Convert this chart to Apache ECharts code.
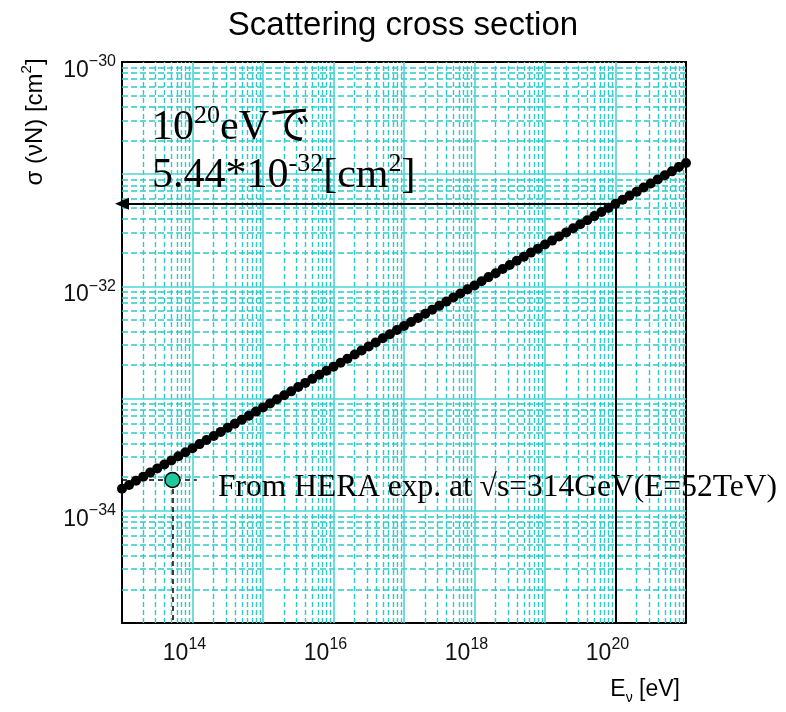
<!DOCTYPE html>
<html>
<head>
<meta charset="utf-8">
<title>Scattering cross section</title>
<script src="https://cdn.jsdelivr.net/npm/echarts@6/dist/echarts.min.js"></script>
<style>
  html, body { margin: 0; padding: 0; background: #fff; }
  #main { width: 786px; height: 712px; }
</style>
</head>
<body>
<div id="main"></div>
<script>
// ニュートリノ核子散乱断面積 (読み取り値)
const energy = [
  1.00e13, 1.26e13, 1.58e13, 2.00e13, 2.51e13, 3.16e13, 3.98e13, 5.01e13, 6.31e13, 7.94e13,
  1.00e14, 1.26e14, 1.58e14, 2.00e14, 2.51e14, 3.16e14, 3.98e14, 5.01e14, 6.31e14, 7.94e14,
  1.00e15, 1.26e15, 1.58e15, 2.00e15, 2.51e15, 3.16e15, 3.98e15, 5.01e15, 6.31e15, 7.94e15,
  1.00e16, 1.26e16, 1.58e16, 2.00e16, 2.51e16, 3.16e16, 3.98e16, 5.01e16, 6.31e16, 7.94e16,
  1.00e17, 1.26e17, 1.58e17, 2.00e17, 2.51e17, 3.16e17, 3.98e17, 5.01e17, 6.31e17, 7.94e17,
  1.00e18, 1.26e18, 1.58e18, 2.00e18, 2.51e18, 3.16e18, 3.98e18, 5.01e18, 6.31e18, 7.94e18,
  1.00e19, 1.26e19, 1.58e19, 2.00e19, 2.51e19, 3.16e19, 3.98e19, 5.01e19, 6.31e19, 7.94e19,
  1.00e20, 1.26e20, 1.58e20, 2.00e20, 2.51e20, 3.16e20, 3.98e20, 5.01e20, 6.31e20, 7.94e20,
  1.00e21
];
const sigma = [
  1.57e-34, 1.70e-34, 1.85e-34, 2.01e-34, 2.19e-34, 2.38e-34, 2.59e-34, 2.81e-34, 3.06e-34, 3.32e-34,
  3.61e-34, 3.93e-34, 4.27e-34, 4.64e-34, 5.05e-34, 5.49e-34, 5.96e-34, 6.48e-34, 7.05e-34, 7.66e-34,
  8.33e-34, 9.06e-34, 9.85e-34, 1.07e-33, 1.16e-33, 1.27e-33, 1.38e-33, 1.50e-33, 1.63e-33, 1.77e-33,
  1.92e-33, 2.09e-33, 2.27e-33, 2.47e-33, 2.69e-33, 2.92e-33, 3.17e-33, 3.45e-33, 3.75e-33, 4.08e-33,
  4.43e-33, 4.82e-33, 5.24e-33, 5.70e-33, 6.19e-33, 6.73e-33, 7.32e-33, 7.96e-33, 8.65e-33, 9.41e-33,
  1.02e-32, 1.11e-32, 1.21e-32, 1.31e-32, 1.43e-32, 1.55e-32, 1.69e-32, 1.84e-32, 2.00e-32, 2.17e-32,
  2.36e-32, 2.56e-32, 2.79e-32, 3.03e-32, 3.30e-32, 3.58e-32, 3.89e-32, 4.23e-32, 4.60e-32, 5.00e-32,
  5.44e-32, 5.92e-32, 6.43e-32, 6.99e-32, 7.60e-32, 8.26e-32, 8.99e-32, 9.77e-32, 1.06e-31, 1.16e-31,
  1.26e-31
];
// HERA の点
const hera = [5.2e13, 1.88e-34];
const heraLineEnd = 1.15e14;
// 10^20 eV の矢印
const markE = 1e20;
const markSigma = 5.44e-32;

const xMin = 1e13, xMax = 1e21;
const yMin = 1e-35, yMax = 1e-30;
const xDecades = [1e13, 1e14, 1e15, 1e16, 1e17, 1e18, 1e19, 1e20];
const yDecades = [1e-35, 1e-34, 1e-33, 1e-32, 1e-31];
const minorMant = [2, 3, 4, 5, 6, 7, 8, 9];
const xLabelExp = [14, 16, 18, 20];
const yLabelExp = [-34, -32, -30];

const gridColor = '#4fd4d4';
const minorColor = '#2ccaca';

// 1e-35 程度の値は log 軸の丸めで 0 になるので、y は log10 を value 軸に載せる
const lg = Math.log10;

// 目盛り線 (主/副)
const majorLines = [];
const minorX = [];
const minorY = [];
xDecades.forEach(function (d, i) {
  if (i > 0) majorLines.push({ xAxis: d });
  minorMant.forEach(function (m) { minorX.push({ xAxis: m * d }); });
});
yDecades.forEach(function (d, i) {
  if (i > 0) majorLines.push({ yAxis: lg(d) });
  minorMant.forEach(function (m) { minorY.push({ yAxis: lg(m * d) }); });
});

function supLabel(e) {
  return '{b|10}{s|' + String(e).replace('-', '\u2212') + '}';
}
const tickRich = {
  b: { fontSize: 23, fontFamily: 'Liberation Sans', color: '#111', lineHeight: 28, verticalAlign: 'bottom' },
  s: { fontSize: 16, fontFamily: 'Liberation Sans', color: '#111', lineHeight: 16, verticalAlign: 'top' }
};

const serifRich = {
  b: { fontSize: 42, fontFamily: '"Liberation Serif", "Noto Sans CJK JP"', color: '#000', lineHeight: 46, verticalAlign: 'bottom' },
  s: { fontSize: 26, fontFamily: 'Liberation Serif', color: '#000', lineHeight: 29, verticalAlign: 'top' }
};

function gridSeries(name, list, style) {
  return {
    name: name, type: 'line', data: [], z: 1, silent: true,
    markLine: { silent: true, symbol: 'none', label: { show: false }, lineStyle: style, data: list }
  };
}

const chart = echarts.init(document.getElementById('main'));
chart.setOption({
  animation: false,
  backgroundColor: '#fff',
  grid: { left: 122, right: 100, top: 62, bottom: 89, containLabel: false },
  xAxis: [{
    type: 'log', logBase: 10, min: xMin, max: xMax, splitNumber: 8, z: 3,
    axisLine: { show: true, lineStyle: { color: '#000', width: 2 } },
    axisTick: { show: false },
    splitLine: { show: false },
    axisLabel: {
      margin: 14, rich: tickRich, padding: [0, 16, 0, 0],
      formatter: function (v) {
        const e = Math.round(lg(v));
        return xLabelExp.indexOf(e) < 0 ? '' : supLabel(e);
      }
    }
  }, {
    type: 'value', position: 'top', min: 0, max: 1, z: 3,
    axisLine: { show: true, onZero: false, lineStyle: { color: '#000', width: 2 } },
    axisTick: { show: false }, axisLabel: { show: false }, splitLine: { show: false }
  }],
  yAxis: [{
    type: 'value', min: lg(yMin), max: lg(yMax), interval: 1, z: 3,
    axisLine: { show: true, onZero: false, lineStyle: { color: '#000', width: 2 } },
    axisTick: { show: false },
    splitLine: { show: false },
    axisLabel: {
      margin: 6, rich: tickRich, padding: [12, 0, 0, 0],
      formatter: function (v) {
        const e = Math.round(v);
        return yLabelExp.indexOf(e) < 0 ? '' : supLabel(e);
      }
    }
  }, {
    type: 'value', position: 'right', min: 0, max: 1, z: 3,
    axisLine: { show: true, onZero: false, lineStyle: { color: '#000', width: 2 } },
    axisTick: { show: false }, axisLabel: { show: false }, splitLine: { show: false }
  }],
  graphic: [
    { type: 'text', x: 403, y: 9, style: { text: 'Scattering cross section', fontSize: 33, fontFamily: 'Liberation Sans', fill: '#000', align: 'center', verticalAlign: 'top' } },
    { type: 'text', x: 33, y: 122, rotation: Math.PI / 2,
      style: { text: '{t|\u03c3 (\u03bdN) [cm}{s|2}{t|]}', align: 'center', verticalAlign: 'middle',
        rich: {
          t: { fontSize: 24, fontFamily: 'Liberation Sans', color: '#111', lineHeight: 28, verticalAlign: 'bottom' },
          s: { fontSize: 15, fontFamily: 'Liberation Sans', color: '#111', lineHeight: 15, verticalAlign: 'top' }
        } } },
    { type: 'text', x: 680, y: 692,
      style: { text: '{t|E}{u|\u03bd}{t| [eV]}', align: 'right', verticalAlign: 'middle',
        rich: {
          t: { fontSize: 23, fontFamily: 'Liberation Sans', color: '#111', lineHeight: 27, verticalAlign: 'top' },
          u: { fontSize: 14, fontFamily: 'Liberation Sans', color: '#111', lineHeight: 14, verticalAlign: 'bottom' }
        } } },
    { type: 'text', x: 152, y: 103, z: 10,
      style: { text: '{b|10}{s|20}{b|eV\u3067}', align: 'left', verticalAlign: 'top', rich: serifRich } },
    { type: 'text', x: 152, y: 151, z: 10,
      style: { text: '{b|5.44*10}{s|-32}{b|[cm}{s|2}{b|]}', align: 'left', verticalAlign: 'top', rich: serifRich } },
    { type: 'text', x: 218, y: 488, z: 10,
      style: { text: 'From HERA exp. at \u221as=314GeV(E=52TeV)', fontSize: 31.5, fontFamily: 'Liberation Serif', fill: '#000', align: 'left', verticalAlign: 'middle' } }
  ],
  series: [
    gridSeries('grid-minor-x', minorX, { color: minorColor, width: 1.4, type: [5, 3], opacity: 1 }),
    gridSeries('grid-minor-y', minorY, { color: minorColor, width: 1.5, type: [6, 3], opacity: 1 }),
    gridSeries('grid-major', majorLines, { color: gridColor, width: 1.6, type: 'solid', opacity: 1 }),
    {
      name: 'arrow', type: 'line', data: [], z: 4, silent: true,
      markLine: { silent: true, symbol: ['none', 'triangle'], symbolSize: [12, 14], label: { show: false },
        lineStyle: { color: '#000', width: 2, type: 'solid' },
        data: [
          [{ coord: [markE, lg(markSigma)] }, { coord: [xMin, lg(markSigma)] }],
          [{ coord: [markE, lg(yMin)], symbol: 'none' }, { coord: [markE, lg(markSigma)], symbol: 'none' }]
        ] }
    },
    {
      name: 'sigma', type: 'line', z: 5, clip: false,
      data: energy.map(function (e, i) { return [e, lg(sigma[i])]; }),
      symbol: 'circle', symbolSize: 10, showAllSymbol: true,
      itemStyle: { color: '#000' },
      lineStyle: { color: '#000', width: 4.5 }
    },
    {
      name: 'HERA', type: 'scatter', z: 6,
      data: [[hera[0], lg(hera[1])]], symbolSize: 15,
      itemStyle: { color: '#1ec99c', borderColor: '#000', borderWidth: 1.5, opacity: 1 },
      markLine: { silent: true, symbol: 'none', label: { show: false },
        lineStyle: { color: '#000', width: 1.5, type: [5, 4] },
        data: [
          [{ coord: [xMin, lg(hera[1])] }, { coord: [heraLineEnd, lg(hera[1])] }],
          [{ coord: [hera[0], lg(hera[1])] }, { coord: [hera[0], lg(yMin)] }]
        ] }
    }
  ]
});
</script>
</body>
</html>
